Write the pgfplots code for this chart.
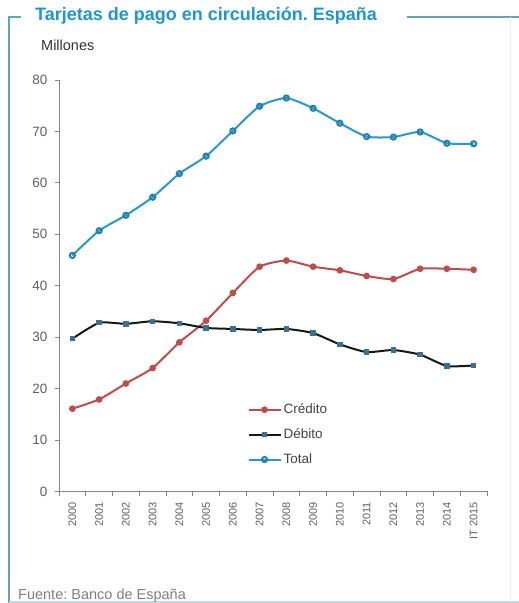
\documentclass[border=0pt]{standalone}
\usepackage{pgfplots}
\pgfplotsset{compat=1.18}
\usepackage{fontspec}
\setmainfont{Liberation Sans}
\frenchspacing
\definecolor{frame}{RGB}{95,165,180}
\definecolor{titleblue}{RGB}{30,150,208}
\definecolor{totblue}{RGB}{40,152,205}
\definecolor{credred}{RGB}{190,76,74}
\definecolor{debblack}{RGB}{15,28,15}
\definecolor{debmark}{RGB}{60,110,150}
\definecolor{txtgray}{RGB}{95,95,95}
\definecolor{axgray}{RGB}{135,135,135}
\pgfplotstableread{
x credito debito total
0 16.1 29.7 45.9
1 17.9 32.8 50.7
2 21.0 32.6 53.7
3 24.0 33.1 57.2
4 29.0 32.7 61.8
5 33.2 31.8 65.2
6 38.6 31.6 70.1
7 43.7 31.4 74.9
8 44.9 31.6 76.5
9 43.7 30.8 74.5
10 43.0 28.6 71.6
11 41.9 27.1 69.0
12 41.3 27.5 68.9
13 43.3 26.6 69.9
14 43.3 24.4 67.7
15 43.1 24.5 67.6
}\datatable
\begin{document}
\begin{tikzpicture}
\path[use as bounding box] (0pt,0pt) rectangle (519pt,603pt);
% frame
\draw[frame, line width=1.6pt] (21pt,586pt) -- (9pt,586pt) -- (9pt,0pt);
\draw[frame, line width=1.6pt] (407pt,586pt) -- (519pt,586pt);
\draw[frame!40, line width=1.2pt] (9pt,1pt) -- (519pt,1pt);
\draw[frame!15, line width=1pt] (510pt,586pt) -- (510pt,1pt);
\node[anchor=base west, inner sep=0pt, text=titleblue, font=\fontsize{18}{21}\selectfont\bfseries] at (35pt,582pt) {Tarjetas de pago en circulación. España};
\node[anchor=base west, inner sep=0pt, text=black!80, font=\fontsize{14.5}{17}\selectfont] at (41pt,552pt) {Millones};
\node[anchor=base west, inner sep=0pt, text=txtgray!80, font=\fontsize{14.5}{17}\selectfont] at (18pt,4pt) {Fuente: Banco de España};
\begin{axis}[
  at={(59pt,111.5pt)}, anchor=south west,
  scale only axis, width=428pt, height=411.5pt,
  xmin=-0.5, xmax=15.5, ymin=0, ymax=80,
  axis lines=left, axis line style={-, axgray, line width=1pt},
  ytick={0,10,...,80},
  xtick={0,...,15},
  xticklabels={2000,2001,2002,2003,2004,2005,2006,2007,2008,2009,2010,2011,2012,2013,2014,IT 2015},
  minor xtick={-0.5,0.5,...,15.5},
  major x tick style={draw=none},
  tick align=outside,
  tick style={axgray, line width=0.8pt},
  major tick length=4pt, minor tick length=4pt,
  /pgf/number format/assume math mode=true,
  yticklabel style={font=\fontsize{13.5}{16}\selectfont, text=txtgray, xshift=-4pt},
  xticklabel style={font=\fontsize{11}{13}\selectfont, text=txtgray, rotate=90, anchor=east, xshift=-3pt},
  legend style={at={(0.44,0.218)}, anchor=north west, draw=none, fill=none,
    font=\fontsize{13.5}{16}\selectfont, text=txtgray!70!black, row sep=9.5pt, inner sep=0pt},
  legend cell align=left,
  legend image code/.code={\draw[mark repeat=2,mark phase=2,#1] plot coordinates {(0pt,0pt)(16pt,0pt)(32pt,0pt)};},
]
\addplot[credred, line width=2pt, smooth, tension=0.35, mark=*, mark size=2.3pt, mark options={fill=credred, draw=credred}] table[x=x,y=credito] {\datatable};
\addlegendentry{Crédito}
\addplot[debblack, line width=2pt, smooth, tension=0.35, mark=square*, mark size=1.7pt, mark options={fill=debmark, draw=debmark}] table[x=x,y=debito] {\datatable};
\addlegendentry{Débito}
\addplot[totblue, line width=2pt, smooth, tension=0.35, mark=o, mark size=2.6pt, mark options={draw=totblue!85!black, fill=white}] table[x=x,y=total] {\datatable};
\addlegendentry{Total}
\end{axis}
\end{tikzpicture}
\end{document}
